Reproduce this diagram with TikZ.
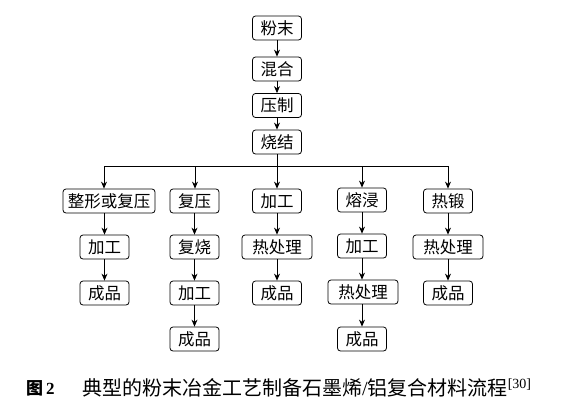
\documentclass[tikz,border=0pt]{standalone}
\usepackage{fontspec}
\setmainfont{Liberation Serif}
\newfontfamily\cjk{Noto Sans CJK SC}
\usetikzlibrary{arrows.meta}
\begin{document}
\begin{tikzpicture}[x=1pt,y=-1pt,
  box/.style={draw,line width=0.8pt,rounded corners=3pt,minimum height=24pt,
    inner xsep=2pt,inner ysep=0pt,font=\cjk\fontsize{16.5}{16.5}\selectfont},
  w2/.style={box,minimum width=49pt},
  w3/.style={box,minimum width=70pt},
  w5/.style={box,minimum width=92pt},
  arr/.style={line width=0.8pt,-{Stealth[length=7pt,width=6pt]}},
  ln/.style={line width=0.8pt}]
\useasboundingbox (0,0) rectangle (563,405);
% main chain
\node[w2] (a1) at (277,28) {粉末};
\node[w2] (a2) at (277,69) {混合};
\node[w2] (a3) at (277,105.5) {压制};
\node[w2] (a4) at (277,142) {烧结};
\draw[arr] (a1) -- (a2);
\draw[arr] (a2) -- (a3);
\draw[arr] (a3) -- (a4);
% branch line
\coordinate (h1) at (104,166);
\coordinate (h2) at (195,166);
\coordinate (h3) at (277,166);
\coordinate (h4) at (362,166);
\coordinate (h5) at (448,166);
\draw[ln] (a4.south) -- (h3);
\draw[ln] (h1) -- (h5);
% column 1
\node[w5] (c11) at (109,201) {整形或复压};
\node[w2] (c12) at (104.5,247) {加工};
\node[w2] (c13) at (104.5,293) {成品};
\draw[arr] (h1) -- (h1 |- c11.north);
\draw[arr] (c11.south -| c12) -- (c12);
\draw[arr] (c12) -- (c13);
% column 2
\node[w2] (c21) at (194.5,201) {复压};
\node[w2] (c22) at (194.5,247) {复烧};
\node[w2] (c23) at (194.5,293) {加工};
\node[w2] (c24) at (194.5,339) {成品};
\draw[arr] (h2) -- (h2 |- c21.north);
\draw[arr] (c21) -- (c22);
\draw[arr] (c22) -- (c23);
\draw[arr] (c23) -- (c24);
% column 3
\node[w2] (c31) at (277,201) {加工};
\node[w3] (c32) at (277,247) {热处理};
\node[w2] (c33) at (277,293) {成品};
\draw[arr] (h3) -- (c31);
\draw[arr] (c31) -- (c32);
\draw[arr] (c32) -- (c33);
% column 4
\node[w2] (c41) at (362,200) {熔浸};
\node[w2] (c42) at (362,246) {加工};
\node[w3] (c43) at (363,292) {热处理};
\node[w2] (c44) at (362,339) {成品};
\draw[arr] (h4) -- (c41);
\draw[arr] (c41) -- (c42);
\draw[arr] (c42) -- (c42 |- c43.north);
\draw[arr] (c42 |- c43.south) -- (c44);
% column 5
\node[w2] (c51) at (448,201) {热锻};
\node[w3] (c52) at (448,247) {热处理};
\node[w2] (c53) at (448,293) {成品};
\draw[arr] (h5) -- (c51);
\draw[arr] (c51) -- (c52);
\draw[arr] (c52) -- (c53);
% caption
\node[anchor=west,inner sep=0pt] (cap1) at (26,388)
  {\fontsize{17}{17}\selectfont\cjk\bfseries 图\hspace{3pt}\rmfamily 2};
\node[anchor=west,inner sep=0pt] (cap2) at (82,388)
  {\fontsize{20}{20}\selectfont\cjk 典型的粉末冶金工艺制备石墨烯\rmfamily/\cjk 铝复合材料流程\rmfamily\textsuperscript{[30]}};
\end{tikzpicture}
\end{document}
